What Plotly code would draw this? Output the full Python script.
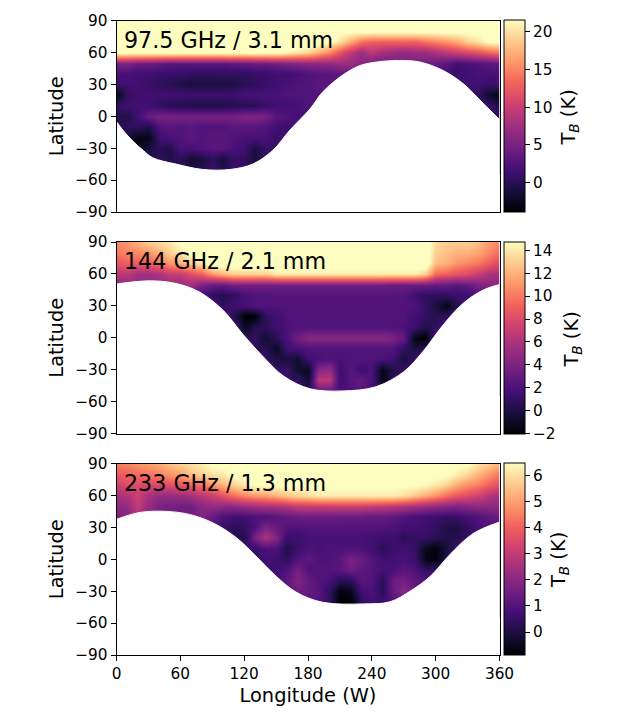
# -*- coding: utf-8 -*-
import plotly.graph_objects as go

FONT = "DejaVu Sans"

lon = list(range(0, 361, 10))
lat = list(range(90, -51, -10))

labels = ["97.5 GHz / 3.1 mm", "144 GHz / 2.1 mm", "233 GHz / 1.3 mm"]
z_ranges = [(-3.9, 21.5), (-2.0, 14.74), (-0.89, 6.46)]
cbar_ticks = [[0, 5, 10, 15, 20], list(range(-2, 15, 2)), [0, 1, 2, 3, 4, 5, 6]]
lat_ticks = [-90, -60, -30, 0, 30, 60, 90]
lon_ticks = [0, 60, 120, 180, 240, 300, 360]

# brightness temperature (K), rows from 90 down to -50, columns lon 0..360
# h1/h2/h3 are cells behind the white off-disk area
h1, h2, h3 = 2, 2.2, 1

tb_97 = [
    [25] * 37,
    [25] * 21 + [22] * 14 + [25] * 2,
    [25] * 18 + [24, 23, 22, 20, 17, 14, 13, 13, 13, 13, 13, 14, 15, 16, 17, 19, 20, 22, 22],
    [22] * 16 + [21, 20, 19, 17, 15, 12, 9, 7, 9, 7.5, 7, 6.5, 7, 7, 8, 9, 10, 11, 12, 13, 14],
    [5, 5, 4, 4, 3.5, 3, 3, 3, 3, 3, 3, 3.5, 3.5, 4, 4, 4.5, 5, 5.5, 6, 6, 6.5, 7, 7, 6, 5, 4.5, 5, 5, 5, 4.5, 4, 3, 1.5, 2, 2.5, 3, 3.5],
    [2, 2, 1.5, 1.5, 1, 1, 1, .5, .5, .5, .5, .5, .5, 1, 1, 1.5, 1.5, 2, 2.5, 3, 3, 3.5, 3.5] + [h1] * 8 + [1.5, 1, 1.5, 2, 2, 2],
    [1.5, 1.5, 1.5, 1, .5, 0, -.5, -1, -1, -1, -.8, -.5, 0, .5, 1, 1.5, 2, 2.5, 2.5, 3, 3, 3] + [h1] * 10 + [1.5, 1.5, 1.5, 1, 1.5],
    [-3, .5, 1.5, 1.5, 1.5, 1.5, 1.5, 1.5, 1.5, 1.5, 1.5, 1.5, 2, 2, 2, 2, 2.5, 2.5, 2.5, 3, 3] + [h1] * 12 + [1, .5, -2, -3],
    [1, 1.5, 1.5, 1.5, .5, 0, -.3, -.5, -.5, -.5, -.5, -.3, 0, 0, 1, 1.5, 1.5, 2, 2.5, 2.5] + [h1] * 14 + [1.5, 1, -1],
    [0, -.5, 1.5, 4, 5, 5, 5, 5, 5, 5, 5, 5, 5.5, 5.5, 5, 3, 2.5, 2, 2] + [h1] * 16 + [1.5, 1],
    [0, .5, .5, -.5, 2.5, 3, 2.5, 3, 2.5, 2.5, 2.5, 3, 3, 3, 2.5, 1.5, 1] + [h1] * 20,
    [-1, -1, -3, -3, 1.5, 2, 2.5, 3, 2.5, 3, 3, 2.5, 2, 2, 2, 1] + [h1] * 21,
    [-1, -1, -3, -1, 0, -.5, 2, 2, 2.5, 3, 3, 2, 1.5, -1, 1, 1] + [h1] * 21,
    [1, 1, 1, 0, .5, -.5, .5, -1.5, -1, .5, -1, 1, .5, -1, 1, 1] + [h1] * 21,
    [1, 1, 1, 1, 1, 0, 0, -1, -.5, 1, -.5, 1, 1, 0, 1, 1] + [h1] * 21,
]

tb_144 = [
    [10.5, 11, 12, 13, 13.5, 14, 15] + [16] * 23 + [13.5, 13, 13, 13, 12.5, 11.5, 10.5],
    [10, 10.5, 10.5, 11, 12, 13, 14, 15] + [16] * 22 + [13, 12.5, 12, 12, 11.5, 10.5, 9.5],
    [8.5, 9, 9, 9, 10, 11, 12, 13, 14] + [16] * 21 + [12.5, 12, 11, 10.5, 10, 9, 8],
    [6.5, 6.5, 5.5, 5.5, 6, 7, 7, 8, 9, 11, 12, 13, 13, 13, 13] + [14] * 14 + [13, 9.5, 9, 8.5, 8, 7, 6, 5.5],
    [4.5, 5, 5, 5, 5, 5, 5, 5.5, 4, 3, 3, 3.5, 3.5, 3.5, 3.5, 3.5, 3.5, 3.5, 3.5, 3.5, 3.5, 3.5, 3.5, 3.5, 3.5, 3.5, 3.2, 3.2, 3.2, 3.2, 3, 3, 2.5, 3, 4, 4.5, 4.5],
    [h2] * 8 + [1.5, 1, .3, 1, 1.8, 2.2, 2.2] + [2.4] * 13 + [1.5, .8, .8, 1, 1.3, 1.5, 2] + [h2] * 2,
    [h2] * 10 + [1, 1.5, 1.8] + [2.2] * 16 + [1, 0, -1.5, .5, 1] + [h2] * 3,
    [h2] * 11 + [.5, -2, -2, 1, 1.5] + [2.2] * 12 + [1.5, 1, .5, .8] + [h2] * 5,
    [h2] * 12 + [-1, .5, .8, 1.5, 2, 2.2] + [2.2] * 9 + [2, 1.5, .3, .8] + [h2] * 6,
    [h2] * 12 + [.5, 1, -.5, .8, 2, 3.5] + [4.5] * 8 + [4, 3, -1.5, -2] + [h2] * 7,
    [h2] * 13 + [.5, .5, -1, 1.5, 2] + [2.2] * 9 + [1, 0, .5] + [h2] * 7,
    [h2] * 14 + [1, 0, 0, -.5, 1.5, 2, 2.2, 2, 2.2, 2.2, 2.2, 2, 1.5, 0, 1] + [h2] * 8,
    [h2] * 15 + [1, 1.2, -.5, -1, 4.5, 5, 1.5, 2.5, 1.5, 2, -1.5, .5, 1] + [h2] * 9,
    [h2] * 15 + [1, 1, 1, -.5, 6.5, 6.5, 1.5, 2.5, 3, 2, -1.5, 1, 1] + [h2] * 9,
    [h2] * 15 + [1, 1, 1, 1, 3, 3, 2, 2, 2.5, 1.5, 1, 1, 1] + [h2] * 9,
]

tb_233 = [
    [4.5, 4.6, 4.8, 5, 5.2, 5.5, 5.8, 6, 6.2] + [6.6] * 25 + [6, 5.8, 5.3],
    [3.8, 4, 4.2, 4.3, 4.5, 4.8, 5, 5.5, 5.8, 6, 6.2] + [6.6] * 21 + [6.2, 5.8, 5.3, 4.8, 4.3],
    [3.2, 3.5, 3.5, 3.5, 3.5, 3.6, 3.8, 4, 4.3, 4.8, 5.3, 5.8, 6.2] + [6.6] * 16 + [6.4, 6.2, 5.8, 5.2, 4.8, 4.5, 4, 3.6],
    [2.5, 2.7, 3.2, 2.5, 2.2, 2.2, 2.3, 2.5, 2.8, 3.2, 3.7, 4.2, 4.6, 4.9, 5, 5.3, 5.6, 5.8, 6] + [6.2] * 8 + [6, 5.6, 5.2, 4.8, 4.2, 3.8, 3.5, 3.2, 2.8, 2.5],
    [2, 2.2, 3, 2.2, 1.7, 1.6, 1.5, 1.5, 2, 2.2, 2, 2, 2.2, 2.3, 2.5, 2.5, 2.7, 3, 3, 3, 3.1, 3.1, 3.1, 3.1, 3, 2.9, 2.8, 2.6, 2.4, 2.2, 2, 1.9, 1.8, 1.9, 2, 2, 2],
    [1.7, 2, 2.7, 2, 1.7, 1.6, 1.5, 1.6, 1.8, 1.4, .9, .7, .7, .9, .9, 1.1, 1.3, 1.4, 1.5, 1.5, 1.5, 1.4, 1.4, 1.4, 1.3, 1.3, 1.2, 1, .8, .7, .6, .5, .6, .8, 1, 1.2, 1.4],
    [h3] * 10 + [.5, .3, .4, .9, 1.8, 1.3, 1, .9] + [1] * 8 + [.9, .7, .7, .6, .4, .1, 0, .4, .8, 1, 1],
    [h3] * 11 + [.2, .2, 1.7, 2.6, 1.8, .6, .6, .8, .8, .8, .8, .8, .8, .7, .6, .6, .3, .5, .5, .3, .1, .2, .5] + [h3] * 3,
    [h3] * 12 + [.6, .5, .9, .9, .1, .6, .9, .8, .9, .9, .9, .9, .7, .3, .6, .7, .5, -.5, -.8, -.1, .6] + [h3] * 4,
    [h3] * 13 + [.4, .7, .6, .4, 1, 1.2, .9, .9, 1.1, 1.7, 1.4, 1, .7, .7, .8, .6, -.6, -.8, .2] + [h3] * 5,
    [h3] * 14 + [.6, .7, .9, 1.6, .9, 1, 1, 1.1, 1.5, 1.2, 1, .8, .8, 1.1, .9, .4, .5] + [h3] * 6,
    [h3] * 15 + [.8, 1.2, 1.8, 1.3, 1, .8, .3, .3, 1.1, 1, .3, 1.5, 1.6, 1.2, 1] + [h3] * 7,
    [h3] * 16 + [1, 1.5, 1.3, 1.1, .4, -.8, -.6, .7, .9, .3, 1.4, 2, 1.4] + [h3] * 8,
    [h3] * 16 + [1, 1, 1, 1, .4, -.89, -.89, .4, .7, .6, 1, 1, 1] + [h3] * 8,
    [h3] * 16 + [1, 1, 1, 1, 0, -.89, -.89, 0, .7, .7, 1, 1, 1] + [h3] * 8,
]

# lower edge of the observed disk
limb_lon_97 = [0, 6, 16, 25, 34, 56, 81, 107, 128, 147, 163, 182, 194, 213, 229, 245, 266, 285, 307, 326, 345, 360]
limb_lat_97 = [-5, -13, -24, -32, -39, -45, -50, -50, -45, -32, -13, 7, 23, 39, 47.7, 51, 52.4, 51, 43, 30.5, 11.8, -3]
limb_lon_144 = [0, 31, 56, 78, 100, 119, 138, 157, 182, 213, 244, 270, 288, 307, 326, 345, 360]
limb_lat_144 = [50.5, 53.5, 51, 43, 26, 3, -18, -36, -48, -50, -46, -32, -13, 12, 32.5, 45, 50]
limb_lon_233 = [0, 22, 47, 69, 91, 113, 132, 150, 169, 194, 232, 257, 276, 295, 313, 335, 360]
limb_lat_233 = [37.5, 44, 45, 42, 34, 20, 2, -16, -31, -40.5, -42, -40, -30, -16, 4, 24, 35]

W, H = 640, 719
X0, X1 = 116.5, 499.5
panel_tops = [20.5, 242, 463.5]
PANEL_H = 191.5
# where the colorbar titles sit, in page pixels
cbar_title_x = [569, 572, 559]
cbar_title_y = [117.5, 339.5, 560]

fig = go.Figure()
panels = [
    (tb_97, limb_lon_97, limb_lat_97),
    (tb_144, limb_lon_144, limb_lat_144),
    (tb_233, limb_lon_233, limb_lat_233),
]
axis_font = dict(family=FONT, size=15.3, color="black")
label_font = dict(family=FONT, size=19.4, color="black")

for i, (tb, limb_lon, limb_lat) in enumerate(panels):
    n = "" if i == 0 else str(i + 1)
    top = panel_tops[i]
    zmin, zmax = z_ranges[i]
    fig.add_trace(go.Heatmap(
        x=lon, y=lat[::-1], z=tb[::-1], zmin=zmin, zmax=zmax, zsmooth="best",
        colorscale="Magma", xaxis="x" + n, yaxis="y" + n,
        colorbar=dict(
            x=503.5 / W, xanchor="left", xpad=0, ypad=0, thickness=21,
            y=1 - (top + PANEL_H / 2) / H, yanchor="middle",
            len=PANEL_H / H, lenmode="fraction",
            outlinecolor="black", outlinewidth=1,
            ticks="outside", ticklen=5, tickcolor="black",
            tickvals=cbar_ticks[i], tickfont=axis_font,
        ),
    ))
    # white area off the disk
    fig.add_trace(go.Scatter(
        x=[0, 360], y=[-90, -90], mode="lines", line=dict(width=0),
        xaxis="x" + n, yaxis="y" + n, showlegend=False, hoverinfo="skip",
    ))
    fig.add_trace(go.Scatter(
        x=limb_lon, y=limb_lat, mode="lines", line=dict(color="white", width=1, shape="spline"),
        fill="tonexty", fillcolor="white",
        xaxis="x" + n, yaxis="y" + n, showlegend=False, hoverinfo="skip",
    ))
    last = i == 2
    fig.layout["xaxis" + n] = dict(
        domain=[X0 / W, X1 / W], range=[0, 360], anchor="y" + n,
        tickvals=lon_ticks if last else [], ticks="outside" if last else "",
        ticklen=5, tickcolor="black", tickfont=axis_font,
        showticklabels=last, showgrid=False, zeroline=False,
        showline=True, linecolor="black", linewidth=1, mirror=True,
        title=dict(text="Longitude (W)", font=label_font, standoff=6) if last else None,
    )
    fig.layout["yaxis" + n] = dict(
        domain=[1 - (top + PANEL_H) / H, 1 - top / H], range=[-90, 90], anchor="x" + n,
        tickvals=lat_ticks, ticks="outside", ticklen=5, tickcolor="black",
        tickfont=axis_font, showgrid=False, zeroline=False,
        showline=True, linecolor="black", linewidth=1, mirror=True,
        title=dict(text="Latitude", font=label_font, standoff=6),
    )
    fig.add_annotation(
        x=5.5, y=72, xref="x" + n, yref="y" + n, text=labels[i], showarrow=False,
        xanchor="left", yanchor="middle", font=dict(family=FONT, size=22.2, color="black"),
    )
    fig.add_annotation(
        x=cbar_title_x[i] / W, y=1 - cbar_title_y[i] / H, xref="paper", yref="paper",
        text="T<sub><i>B</i></sub> (K)", textangle=-90, showarrow=False,
        xanchor="center", yanchor="middle", font=label_font,
    )

fig.update_layout(
    width=W, height=H, margin=dict(l=0, r=0, t=0, b=0, autoexpand=False),
    paper_bgcolor="white", plot_bgcolor="white", font=dict(family=FONT),
    showlegend=False,
)

fig.write_html("out.html", config={"displayModeBar": False},
               post_script="document.body.style.margin='0'")
